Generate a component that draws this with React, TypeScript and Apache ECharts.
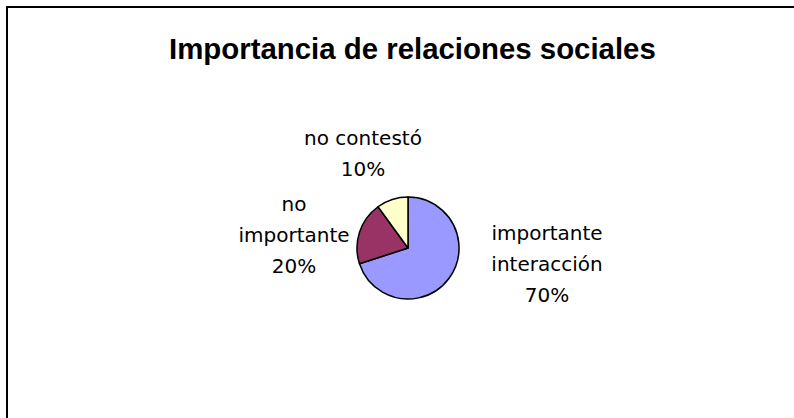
import React, { useEffect, useRef } from "react";
import * as echarts from "echarts";

const title = "Importancia de relaciones sociales";
const categories = ["importante\ninteracción", "no\nimportante", "no contestó"];
const values = [70, 20, 10];
const colors = ["#9999FF", "#993366", "#FFFFCC"];

const labelPos = [
  { x: 547, y: 264 },
  { x: 294, y: 235 },
  { x: 363, y: 153 },
];

export default function App() {
  const ref = useRef<HTMLDivElement>(null);
  useEffect(() => {
    if (!ref.current) return;
    const chart = echarts.init(ref.current, null, { renderer: "svg" });
    chart.setOption({
      animation: false,
      backgroundColor: "#ffffff",
      title: {
        text: title,
        left: 164,
        top: 29,
        textStyle: {
          fontFamily: "Liberation Sans, Arial, sans-serif",
          fontWeight: "bold",
          fontSize: 29.4,
          color: "#000",
        },
      },
      graphic: [
        {
          type: "rect",
          shape: { x: 7, y: 7, width: 820, height: 440 },
          style: { fill: "none", stroke: "#000", lineWidth: 2 },
          silent: true,
        },
      ],
      series: [
        {
          type: "pie",
          center: [408, 248],
          radius: 51,
          startAngle: 90,
          clockwise: true,
          data: categories.map((c, i) => ({
            name: c,
            value: values[i],
            itemStyle: { color: colors[i] },
          })),
          itemStyle: { borderColor: "#000", borderWidth: 1.5 },
          label: {
            show: true,
            position: "outside",
            formatter: "{b}\n{d}%",
            fontFamily: "DejaVu Sans, sans-serif",
            fontSize: 20,
            lineHeight: 31,
            color: "#000",
            align: "center",
          },
          labelLine: { show: false },
          labelLayout: (params: any) => {
            const p = labelPos[params.dataIndex];
            return { x: p.x, y: p.y, align: "center", verticalAlign: "middle" };
          },
          emphasis: { disabled: true },
        },
      ],
    });
    return () => chart.dispose();
  }, []);
  return (
    <div
      ref={ref}
      style={{ position: "fixed", left: 0, top: 0, width: 794, height: 418 }}
    />
  );
}
